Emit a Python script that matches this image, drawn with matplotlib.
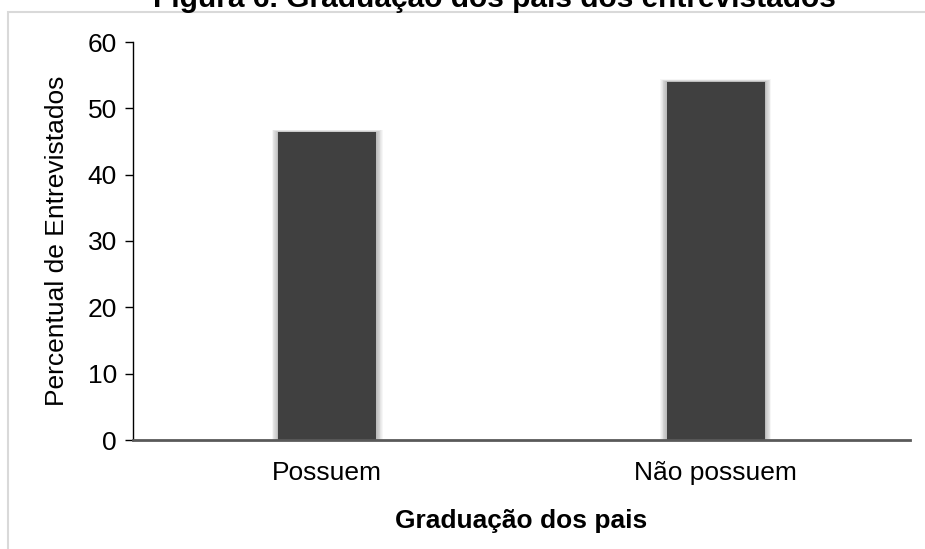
import matplotlib
matplotlib.use('Agg')
import matplotlib.pyplot as plt
from matplotlib.patches import Rectangle

plt.rcParams['font.family'] = ['Liberation Sans', 'DejaVu Sans']

# dados
categorias = ['Possuem', 'Não possuem']
percentual = [46.4, 54.0]
y_ticks = [0, 10, 20, 30, 40, 50, 60]

C_BAR = '#404040'
C_FRAME = '#D9D9D9'
W, H = 925, 549

fig = plt.figure(figsize=(W / 100, H / 100), dpi=100, facecolor='white')

# moldura da área do gráfico (estilo Excel, cortada à direita/embaixo)
fig.patches.append(Rectangle((8 / W, -0.1), 1.2, 1 - 11.5 / H + 0.1,
                             transform=fig.transFigure, fill=False,
                             edgecolor=C_FRAME, linewidth=1.5, zorder=0))

ax = fig.add_axes([133 / W, 1 - 440 / H, (910 - 133) / W, (440 - 42) / H])
x = range(len(categorias))

# sombra suave das barras (degradê)
for i in range(1, 9):
    k = 0.004 * i
    ax.bar(x, [v + k * 12 for v in percentual], width=0.253 + k,
           color='black', alpha=0.035, linewidth=0, zorder=1)
ax.bar(x, percentual, width=0.253, color=C_BAR, linewidth=0, zorder=2)

ax.set_xlim(-0.5, 1.5)
ax.set_ylim(0, 60)
ax.set_yticks(y_ticks)
ax.set_xticks(list(x))
ax.set_xticklabels(categorias)

for s in ['top', 'right']:
    ax.spines[s].set_visible(False)
ax.spines['left'].set_color('black')
ax.spines['left'].set_linewidth(1.0)
ax.spines['bottom'].set_color('#595959')
ax.spines['bottom'].set_linewidth(2.0)
ax.spines['bottom'].set_zorder(3)

ax.tick_params(axis='y', direction='out', length=5.5, width=1.0, pad=6,
               labelsize=19, colors='black')
ax.tick_params(axis='x', length=0, pad=15, labelsize=19, colors='black')

# textos
fig.text(57 / W, 1 - 241 / H, 'Percentual de Entrevistados', rotation=90,
         ha='center', va='center', fontsize=19)
fig.text(521 / W, 1 - 528 / H, 'Graduação dos pais', ha='center',
         va='baseline', fontsize=19, fontweight='bold')
fig.text(494 / W, 1 - 7 / H, 'Figura 6. Graduação dos pais dos entrevistados',
         ha='center', va='baseline', fontsize=21.5, fontweight='bold')

fig.savefig('out.png', dpi=100, facecolor='white')
